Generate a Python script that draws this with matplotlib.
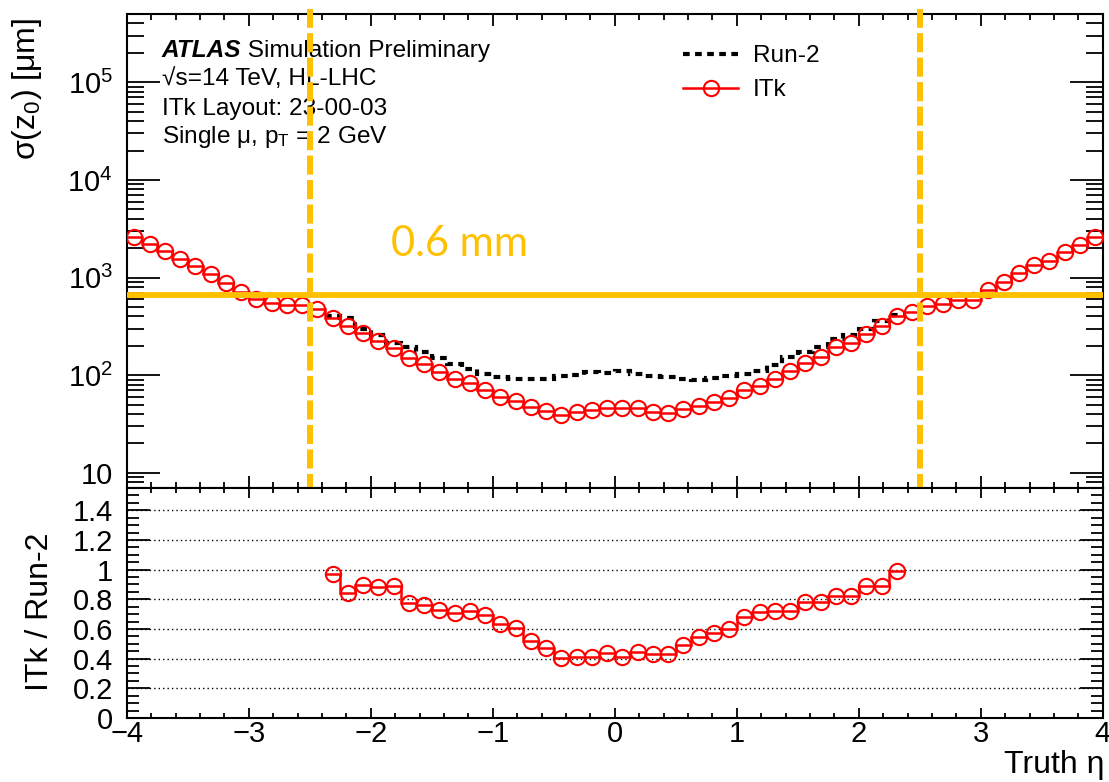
import numpy as np
import matplotlib
matplotlib.use("Agg")
import matplotlib.pyplot as plt
from matplotlib.ticker import MultipleLocator, LogLocator, FuncFormatter, NullFormatter
from matplotlib.lines import Line2D

plt.rcParams['font.family'] = ['Liberation Sans', 'DejaVu Sans']
plt.rcParams['mathtext.fontset'] = 'custom'
plt.rcParams['mathtext.rm'] = 'Liberation Sans'
plt.rcParams['mathtext.it'] = 'Liberation Sans:italic'
plt.rcParams['mathtext.bf'] = 'Liberation Sans:bold'

# 64 bins in eta from -4 to 4
eta_edges = np.linspace(-4, 4, 65)

# sigma(z0) [um] for ITk, one value per bin
itk = [2578, 2203, 1854, 1546, 1300, 1086, 879, 716, 603, 545,
       527, 527, 476, 388, 321, 268, 226, 189, 149, 130,
       109, 91.6, 83.3, 71.1, 60.4, 55.0, 47.7, 43.4, 39.2, 41.8,
       44.2, 46.2, 45.9, 45.9, 42.4, 41.1, 45.2, 48.9, 52.9, 58.5,
       70.6, 78.2, 91.6, 111, 133, 153, 193, 214, 264, 321,
       406, 447, 515, 536, 589, 589, 745, 893, 1112, 1343,
       1486, 1811, 2149, 2578]

# Run-2 only covers bins 13..50
run2_first = 13
run2 = [400, 381, 300, 256, 212, 193, 171, 150, 130, 116,
        102, 95.3, 90.9, 91.4, 92.3, 97.5, 101, 107, 106, 111,
        104, 98.4, 95.4, 91.9, 89.9, 92.6, 97.8, 103, 110, 128,
        155, 171, 196, 234, 260, 296, 362, 410]

# ITk / Run-2 ratio, same bins as Run-2
ratio = [0.971, 0.842, 0.894, 0.883, 0.892, 0.774, 0.759, 0.725, 0.707, 0.718,
         0.695, 0.634, 0.605, 0.522, 0.470, 0.402, 0.413, 0.413, 0.436, 0.413,
         0.442, 0.431, 0.431, 0.492, 0.544, 0.571, 0.598, 0.684, 0.711, 0.718,
         0.718, 0.779, 0.779, 0.824, 0.824, 0.892, 0.887, 0.989]

limit_um = 670        # the "0.6 mm" line as drawn
eta_cut = [-2.5, 2.5]

ORANGE = '#FFC000'
FS = 17.6      # ATLAS label and legend
TFS = 21       # tick labels
AFS = 23       # axis titles

centers = 0.5 * (eta_edges[:-1] + eta_edges[1:])
r_edges = eta_edges[run2_first:run2_first + len(run2) + 1]
r_centers = centers[run2_first:run2_first + len(run2)]

fig = plt.figure(figsize=(11.09, 7.82), dpi=100)
W, H = 1109.0, 782.0
left, right = 126.7, 1102.7
ax = fig.add_axes([left / W, 1 - 488 / H, (right - left) / W, (488 - 14) / H])
rax = fig.add_axes([left / W, 1 - 718 / H, (right - left) / W, (718 - 488) / H])

dotted = (0, (1.6, 1.3))

# main panel
ax.stairs(run2, r_edges, baseline=None, color='black', lw=3, ls=dotted, zorder=2)
ax.stairs(itk, eta_edges, baseline=None, color='red', lw=1.8, zorder=3)
ax.plot(centers, itk, 'o', ls='none', mfc='none', mec='red', ms=11, mew=1.5, zorder=3)

ax.set_xlim(-4, 4)
ax.set_yscale('log')
ax.set_ylim(7, 5e5)
ax.xaxis.set_major_locator(MultipleLocator(1))
ax.xaxis.set_minor_locator(MultipleLocator(0.2))
ax.yaxis.set_major_locator(LogLocator(base=10, numticks=12))
ax.yaxis.set_minor_locator(LogLocator(base=10, subs=np.arange(2, 10), numticks=12))
ax.yaxis.set_minor_formatter(NullFormatter())
ax.yaxis.set_major_formatter(FuncFormatter(
    lambda v, p: '10' if abs(v - 10) < 1e-6 else r'$10^{%d}$' % round(np.log10(v))))
ax.tick_params(which='both', direction='in', top=True, right=True, labelbottom=False)
ax.tick_params(axis='x', which='major', length=8.5, width=1.3)
ax.tick_params(axis='x', which='minor', length=4.3, width=1.3)
ax.tick_params(axis='y', which='major', length=23.5, width=1.3, labelsize=TFS, pad=10)
ax.tick_params(axis='y', which='minor', length=12, width=1.3)
for s in ax.spines.values():
    s.set_linewidth(1.5)

# orange annotations
ax.axhline(limit_um, color=ORANGE, lw=4.2, zorder=6)
for x in eta_cut:
    ax.axvline(x, ymin=-0.01, ymax=1.01, color=ORANGE, lw=4.3, ls=(0, (3.2, 0.9)),
               clip_on=False, zorder=6)
fig.text(460 / W, 1 - 244 / H, '0.6 mm', color=ORANGE, fontsize=30,
         family=['Lato', 'Open Sans', 'DejaVu Sans'], ha='center', va='center')

# ATLAS label
t = ax.text(0.036, 0.9099, 'ATLAS', transform=ax.transAxes, fontsize=FS,
            fontweight='bold', fontstyle='italic', va='baseline')
ax.annotate(' Simulation Preliminary', xy=(1, 0), xycoords=t, fontsize=FS,
            va='bottom', ha='left')
ax.text(0.036, 0.8502, '\u221as=14 TeV, HL-LHC', transform=ax.transAxes,
        fontsize=FS, va='baseline')
ax.text(0.036, 0.7869, 'ITk Layout: 23-00-03', transform=ax.transAxes,
        fontsize=FS, va='baseline')
ax.text(0.036, 0.7278, r'Single μ, p$_{\mathrm{T}}$ = 2 GeV', transform=ax.transAxes,
        fontsize=FS, va='baseline')

handles = [Line2D([], [], color='black', lw=3, ls=dotted),
           Line2D([], [], color='red', lw=1.8, marker='o', mfc='none', mec='red',
                  ms=11, mew=1.5)]
ax.legend(handles, ['Run-2', 'ITk'], loc='upper left',
          bbox_to_anchor=(683 / W, 1 - 45 / H), bbox_transform=fig.transFigure,
          frameon=False, fontsize=FS, handlelength=2.25, handletextpad=0.6,
          labelspacing=0.5, borderpad=0, borderaxespad=0)

# ratio panel
rax.stairs(ratio, r_edges, baseline=None, color='red', lw=1.8, zorder=3)
rax.plot(r_centers, ratio, 'o', ls='none', mfc='none', mec='red', ms=11, mew=1.5, zorder=3)
rax.set_xlim(-4, 4)
rax.set_ylim(0, 1.55)
rax.xaxis.set_major_locator(MultipleLocator(1))
rax.xaxis.set_minor_locator(MultipleLocator(0.2))
rax.yaxis.set_major_locator(MultipleLocator(0.2))
rax.yaxis.set_minor_locator(MultipleLocator(0.05))
rax.yaxis.set_major_formatter(FuncFormatter(lambda v, p: '%g' % round(v, 2)))
rax.grid(True, axis='y', which='major', color='black', lw=1, ls=(0, (1, 2.2)))
rax.tick_params(which='both', direction='in', top=True, right=True)
rax.tick_params(axis='x', which='major', length=7, width=1.3, labelsize=TFS, pad=1.5)
rax.tick_params(axis='x', which='minor', length=3.6, width=1.3)
rax.tick_params(axis='y', which='major', length=16.5, width=1.3, labelsize=TFS, pad=10)
rax.tick_params(axis='y', which='minor', length=8.6, width=1.3)
for s in rax.spines.values():
    s.set_linewidth(1.5)

fig.text(27 / W, 1 - 18 / H, 'σ(z$_{0}$) [μm]', rotation=90, fontsize=AFS,
         ha='center', va='top')
fig.text(40 / W, 1 - 612 / H, 'ITk / Run-2', rotation=90, fontsize=AFS,
         ha='center', va='center')
fig.text(1104 / W, 1 - 765 / H, 'Truth η', fontsize=AFS, ha='right', va='center')

fig.savefig('out.png', dpi=100)
